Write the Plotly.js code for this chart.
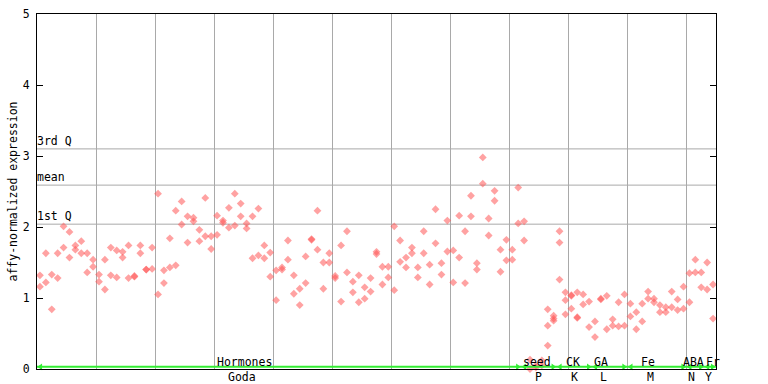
<!DOCTYPE html>
<html><head><meta charset="utf-8">
<script src="https://cdn.plot.ly/plotly-3.0.1.min.js"></script>
<style>html,body{margin:0;padding:0;background:#fff}#chart{width:768px;height:384px}</style>
</head><body><div id="chart"></div>
<script>
// replicate values per sample (115 samples)
const rep1 = [1.32,1.63,1.33,1.63,2.01,1.93,1.74,1.80,1.63,1.54,
  1.33,1.54,1.71,1.67,1.65,1.74,1.31,1.74,1.40,1.71,
  2.47,1.39,1.84,2.23,2.36,2.15,2.13,1.96,2.41,1.87,
  2.16,2.09,2.27,2.47,2.33,2.05,2.15,2.26,1.74,1.64,
  1.39,1.43,1.81,1.32,1.13,1.585,1.83,2.23,1.50,1.63,
  1.31,1.74,1.94,1.23,1.32,1.15,1.28,1.65,1.44,1.44,
  2.01,1.81,1.57,1.71,1.43,1.94,1.47,2.25,1.49,2.09,
  1.67,2.16,1.94,2.44,1.49,2.98,2.12,2.51,1.68,1.82,
  1.68,2.555,2.08,0.13,0.05,0.12,0.84,0.75,1.94,1.08,
  1.04,1.08,1.05,0.95,0.67,0.99,1.03,0.70,0.94,1.05,
  0.92,0.80,0.92,1.09,0.99,0.90,0.87,1.09,0.98,1.16,
  1.35,1.54,1.36,1.50,1.19];
const rep2 = [1.16,1.22,0.84,1.28,1.71,1.57,1.68,1.63,1.36,1.44,
  1.23,1.12,1.32,1.29,1.57,1.28,1.30,1.63,1.40,1.41,
  1.05,1.21,1.43,1.46,2.035,1.78,2.08,1.80,1.87,1.69,
  1.89,2.06,1.99,2.02,2.15,1.98,1.56,1.60,1.56,1.30,
  0.97,1.40,1.54,1.06,0.90,1.21,1.82,1.68,1.13,1.50,
  1.28,0.95,1.36,1.08,0.94,0.99,1.09,1.62,1.19,1.29,
  1.11,1.51,1.43,1.63,1.29,1.63,1.19,1.77,1.33,1.655,
  1.22,1.57,1.21,2.15,1.40,2.61,1.88,2.37,1.37,1.53,
  1.54,2.05,1.81,0.00,0.02,0.05,0.61,0.71,1.78,0.97,
  1.03,0.73,0.91,0.59,0.45,0.98,0.56,0.61,0.60,0.61,
  0.74,0.56,0.67,0.99,0.94,0.80,0.80,0.87,0.83,0.85,
  0.94,1.36,1.15,1.12,0.71];
const rep3 = [null,null,null,null,null,null,null,null,null,null,
  null,null,null,null,null,null,null,null,null,null,
  null,null,null,null,null,null,null,null,null,null,
  null,null,null,null,null,null,null,null,null,null,
  null,null,null,null,null,null,null,null,null,null,
  null,null,null,null,null,null,null,null,null,null,
  null,null,null,null,null,null,null,null,null,null,
  null,null,null,null,null,null,null,null,null,null,
  null,null,null,null,null,null,0.33,0.68,1.26,0.77,
  0.85,0.72,null,null,null,null,null,null,null,null,
  null,null,null,null,null,null,null,null,null,null,
  null,null,null,null,null];
const groupTop = ["Hormones","seed","CK","GA","Fe","ABA","Fr"];
const groupBottom = ["Goda","P","K","L","M","N","Y"];
const groupStart = [0,82,88,94,100,110,113];
const groupEnd = [82,88,94,100,110,113,115];
const topLabelX = [35.2,84.7,90.7,95.5,103.5,111.2,114.5];
const bottomLabelX = [34.8,84.9,91.0,95.9,103.9,110.8,113.8];
const statNames = ["3rd Q","mean","1st Q"];
const statValues = [3.10,2.59,2.04];

const nSamples = rep1.length;
const xs = [], ys = [];
[rep1, rep2, rep3].forEach(rep => {
  rep.forEach((v, i) => { if (v !== null) { xs.push(i + 0.5); ys.push(v); } });
});

const FONT = "DejaVu Sans Mono, monospace";
const GRID = "#a9a9a9";
const GREEN = "#33ee33";

const traces = [
  {x: xs, y: ys, type: "scatter", mode: "markers", cliponaxis: false,
   marker: {symbol: "diamond", size: 6, color: "rgba(255,85,85,0.55)", line: {width: 0}},
   hoverinfo: "x+y", showlegend: false},
  {x: groupStart.map(s => s + 0.6), y: groupStart.map(() => 0.03), type: "scatter", mode: "markers",
   cliponaxis: false, marker: {symbol: "triangle-left", size: 6, color: GREEN}, showlegend: false, hoverinfo: "skip"},
  {x: groupEnd.map(e => e - 0.6), y: groupEnd.map(() => 0.03), type: "scatter", mode: "markers",
   cliponaxis: false, marker: {symbol: "triangle-right", size: 6, color: GREEN}, showlegend: false, hoverinfo: "skip"},
  {x: [0], y: [0], yaxis: "y2", type: "scatter", mode: "markers", marker: {opacity: 0}, showlegend: false, hoverinfo: "skip"}
];

const shapes = [];
statValues.forEach(v => shapes.push({type: "line", xref: "paper", x0: 0, x1: 1, yref: "y", y0: v, y1: v,
  line: {color: GRID, width: 1}, layer: "below"}));
shapes.push({type: "line", xref: "x", x0: 0, x1: nSamples, yref: "y", y0: 0.03, y1: 0.03,
  line: {color: GREEN, width: 2}, layer: "above"});

const annotations = [];
statNames.forEach((n, k) => annotations.push({text: n, xref: "paper", x: 0, xanchor: "left", xshift: -2,
  yref: "y", y: statValues[k], yanchor: "bottom", yshift: -1, showarrow: false,
  font: {family: FONT, size: 11.5, color: "#000"}}));
groupTop.forEach((n, k) => annotations.push({text: n, xref: "x", x: topLabelX[k], xanchor: "center",
  yref: "paper", y: 0.02, yanchor: "middle", showarrow: false, font: {family: FONT, size: 11.5, color: "#000"}}));
groupBottom.forEach((n, k) => annotations.push({text: n, xref: "x", x: bottomLabelX[k], xanchor: "center",
  yref: "paper", y: -0.0225, yanchor: "middle", showarrow: false, font: {family: FONT, size: 11.5, color: "#000"}}));
annotations.push({text: "affy-normalized expression", xref: "paper", x: -0.0368, xanchor: "center",
  yref: "paper", y: 0.5, yanchor: "middle", textangle: -90, showarrow: false,
  font: {family: FONT, size: 11.5, color: "#000"}});

const layout = {
  width: 768, height: 384,
  margin: {l: 37, r: 52, t: 14, b: 15, pad: 0},
  paper_bgcolor: "#fff", plot_bgcolor: "#fff",
  showlegend: false,
  font: {family: FONT, size: 11.5, color: "#000"},
  xaxis: {range: [0, nSamples], tick0: 0, dtick: 10, showgrid: true, gridcolor: GRID, gridwidth: 1,
    showticklabels: false, ticks: "", zeroline: false, showline: true, mirror: true,
    linecolor: "#000", linewidth: 1, fixedrange: true},
  yaxis: {range: [0, 5], tick0: 0, dtick: 1, showgrid: false, zeroline: false, ticks: "inside",
    ticklen: 6, tickcolor: "#000", showline: true, linecolor: "#000", linewidth: 1,
    tickfont: {family: FONT, size: 11.5, color: "#000"}, ticklabelstandoff: 4, fixedrange: true},
  yaxis2: {range: [0, 5], overlaying: "y", side: "right", tick0: 0, dtick: 1, ticks: "inside",
    ticklen: 6, tickcolor: "#000", showticklabels: false, showgrid: false, zeroline: false,
    showline: true, linecolor: "#000", linewidth: 1, fixedrange: true},
  shapes: shapes,
  annotations: annotations
};

Plotly.newPlot("chart", traces, layout, {displayModeBar: false, staticPlot: true});
</script>
</body></html>
